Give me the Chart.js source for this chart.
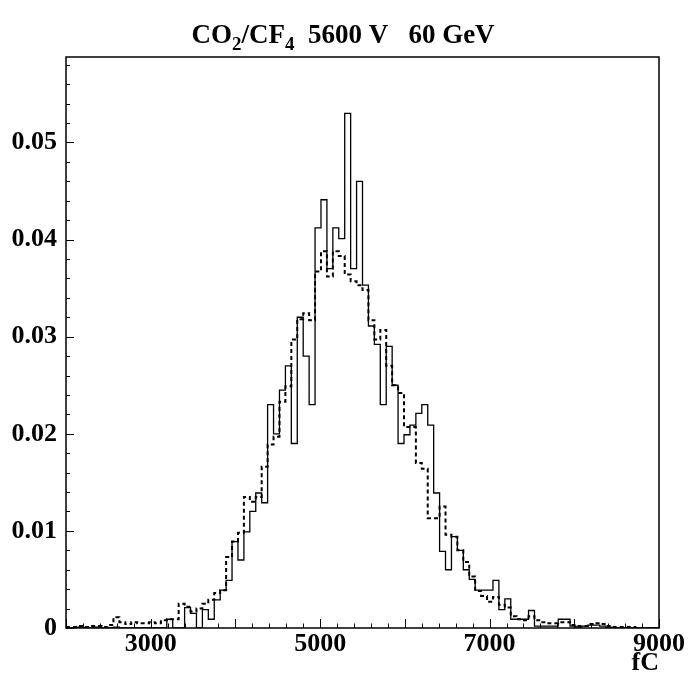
<!DOCTYPE html>
<html>
<head>
<meta charset="utf-8">
<script src="https://cdn.jsdelivr.net/npm/chart.js@4/dist/chart.umd.min.js"></script>
<style>
  html, body { margin: 0; padding: 0; background: #fff; }
</style>
</head>
<body>
<canvas id="histo" width="691" height="676"></canvas>
<script>
// 100 bins of 70 fC from 2000 to 9000
const binStart = 2000;
const binWidth = 70;
const xLabels = [3000, 5000, 7000, 9000];

// solid histogram
const solidValues = [
    0, 0, 0.0001, 0, 0, 0.0001, 0, 0, 0.0001, 0,
    0, 0, 0, 0, 0, 0, 0, 0.0009, 0, 0,
    0.0021, 0.0015, 0, 0.0019, 0.0009, 0.0029, 0.0039, 0.0049, 0.0089, 0.0070,
    0.0099, 0.0120, 0.0139, 0.0129, 0.0230, 0.0200, 0.0245, 0.0270, 0.0190, 0.0320,
    0.0280, 0.0230, 0.0412, 0.0441, 0.0370, 0.0412, 0.0401, 0.0530, 0.0370, 0.0460,
    0.0353, 0.0311, 0.0292, 0.0230, 0.0290, 0.0250, 0.0190, 0.0199, 0.0209, 0.0221,
    0.0230, 0.0209, 0.0139, 0.0079, 0.0060, 0.0094, 0.0080, 0.0060, 0.0050, 0.0039,
    0.0039, 0.0039, 0.0049, 0.0019, 0.0030, 0.0009, 0.0009, 0.0009, 0.0018, 0.0002,
    0.0002, 0.0002, 0.0002, 0.0009, 0.0009, 0.0002, 0.0001, 0.0002, 0.0003, 0.0003,
    0.0002, 0.0001, 0, 0, 0, 0, 0, 0, 0, 0
];

// dashed histogram
const dashedValues = [
    0.0001, 0.0001, 0.0002, 0.0001, 0.0002, 0.0002, 0.0001, 0.0003, 0.0011, 0.0006,
    0.0004, 0.0006, 0.0005, 0.0005, 0.0006, 0.0005, 0.0008, 0.0009, 0.0009, 0.0025,
    0.0022, 0.0017, 0.0020, 0.0025, 0.0029, 0.0036, 0.0039, 0.0073, 0.0089, 0.0098,
    0.0135, 0.0130, 0.0135, 0.0166, 0.0189, 0.0197, 0.0233, 0.0249, 0.0297, 0.0318,
    0.0324, 0.0317, 0.0367, 0.0388, 0.0362, 0.0388, 0.0383, 0.0364, 0.0357, 0.0353,
    0.0348, 0.0317, 0.0297, 0.0307, 0.0270, 0.0250, 0.0242, 0.0207, 0.0207, 0.0170,
    0.0164, 0.0113, 0.0113, 0.0125, 0.0096, 0.0094, 0.0080, 0.0068, 0.0053, 0.0038,
    0.0033, 0.0027, 0.0032, 0.0024, 0.0021, 0.0012, 0.0009, 0.0008, 0.0012, 0.0008,
    0.0006, 0.0005, 0.0005, 0.0006, 0.0006, 0.0003, 0.0002, 0.0002, 0.0004, 0.0005,
    0.0004, 0.0002, 0.0001, 0.0001, 0.0001, 0.0001, 0, 0, 0, 0
];

const FONT = "'Liberation Serif', 'DejaVu Serif', serif";

// bin edges -> step points (last point closes the final bin)
const toSteps = (values) => {
    const pts = values.map((v, i) => ({ x: binStart + i * binWidth, y: v }));
    pts.push({ x: binStart + values.length * binWidth, y: values[values.length - 1] });
    return pts;
};

// frame + inward ticks like the PAW plot
const frameAndTicks = {
    id: 'frameAndTicks',
    afterDatasetsDraw(chart) {
        const { ctx, chartArea: a, scales: { x, y } } = chart;
        ctx.save();
        ctx.strokeStyle = '#000';
        ctx.lineWidth = 1;
        ctx.beginPath();
        for (let v = x.min; v <= x.max; v += 200) {
            const px = Math.round(x.getPixelForValue(v)) + 0.5;
            const len = v % 1000 === 0 ? 9 : 4.5;
            ctx.moveTo(px, a.bottom);
            ctx.lineTo(px, a.bottom - len);
        }
        for (let k = 0; k * 0.002 <= y.max; k++) {
            const py = Math.round(y.getPixelForValue(k * 0.002)) + 0.5;
            const len = k % 5 === 0 ? 8 : 4;
            ctx.moveTo(a.left, py);
            ctx.lineTo(a.left + len, py);
        }
        ctx.stroke();
        ctx.lineWidth = 1.5;
        ctx.strokeRect(a.left, a.top, a.right - a.left, a.bottom - a.top);
        ctx.restore();
    }
};

// title with subscripts
const titleText = {
    id: 'titleText',
    afterDraw(chart) {
        const { ctx } = chart;
        const parts = [['CO', false], ['2', true], ['/CF', false], ['4', true], ['  5600 V   60 GeV', false]];
        const big = 'bold 27px ' + FONT;
        const small = 'bold 19px ' + FONT;
        ctx.save();
        ctx.fillStyle = '#000';
        ctx.textBaseline = 'alphabetic';
        let total = 0;
        parts.forEach(([t, sub]) => { ctx.font = sub ? small : big; total += ctx.measureText(t).width; });
        let cx = 343 - total / 2;
        parts.forEach(([t, sub]) => {
            ctx.font = sub ? small : big;
            ctx.fillText(t, cx, sub ? 50 : 43);
            cx += ctx.measureText(t).width;
        });
        ctx.restore();
    }
};

new Chart(document.getElementById('histo'), {
    type: 'line',
    data: {
        datasets: [
            {
                label: 'solid',
                data: toSteps(solidValues),
                stepped: 'before',
                borderColor: '#000',
                borderWidth: 1.3,
                pointRadius: 0,
                fill: false,
            },
            {
                label: 'dashed',
                data: toSteps(dashedValues),
                stepped: 'before',
                borderColor: '#000',
                borderWidth: 2,
                borderDash: [4, 3],
                pointRadius: 0,
                fill: false,
            },
        ],
    },
    options: {
        responsive: false,
        animation: false,
        devicePixelRatio: 1,
        layout: { padding: { top: 57, right: 32, left: 0, bottom: 0 } },
        plugins: {
            legend: { display: false },
            tooltip: { enabled: false },
        },
        scales: {
            x: {
                type: 'linear',
                min: 2000,
                max: 9000,
                afterFit: (s) => { s.height = 48; },
                grid: { display: false, drawTicks: false },
                border: { display: false },
                ticks: {
                    stepSize: 1000,
                    autoSkip: false,
                    maxRotation: 0,
                    padding: 1,
                    color: '#000',
                    font: { family: FONT, size: 26, weight: 'bold' },
                    callback: (v) => (xLabels.includes(v) ? String(v) : ''),
                },
                title: {
                    display: true,
                    text: 'fC',
                    align: 'end',
                    color: '#000',
                    padding: 0,
                    font: { family: FONT, size: 26, weight: 'bold', lineHeight: 1 },
                },
            },
            y: {
                min: 0,
                max: 0.0588,
                afterFit: (s) => { s.width = 66; },
                grid: { display: false, drawTicks: false },
                border: { display: false },
                ticks: {
                    stepSize: 0.01,
                    includeBounds: false,
                    padding: 9,
                    color: '#000',
                    font: { family: FONT, size: 26, weight: 'bold' },
                    callback: (v) => (v === 0 ? '0' : v.toFixed(2)),
                },
            },
        },
    },
    plugins: [frameAndTicks, titleText],
});
</script>
</body>
</html>
